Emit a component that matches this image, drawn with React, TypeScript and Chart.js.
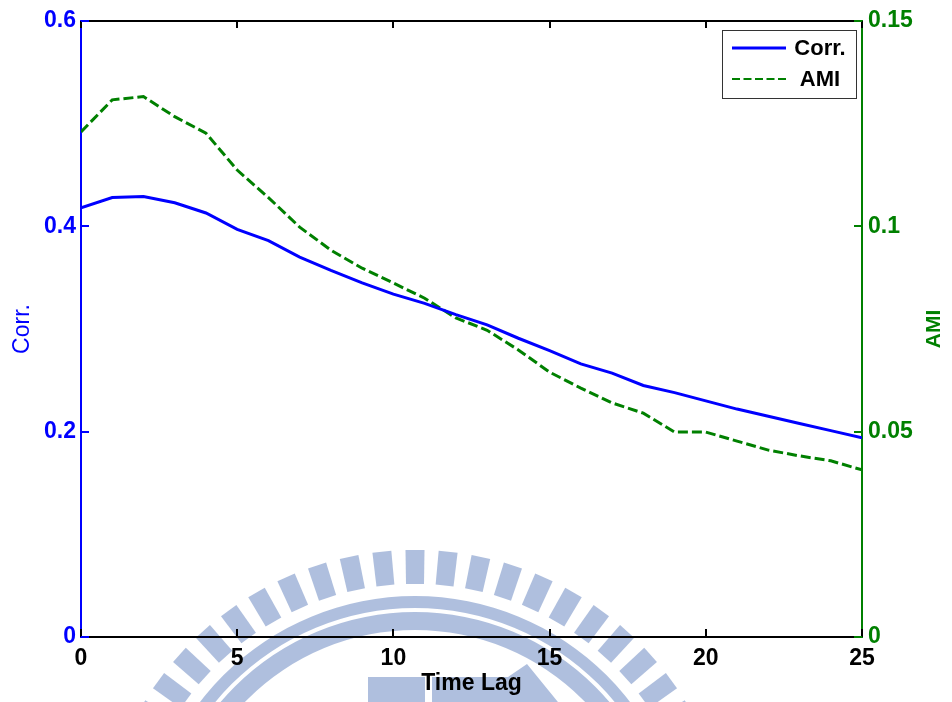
import { useEffect, useRef } from "react";
import { Chart, registerables } from "chart.js";

Chart.register(...registerables);

// Time lag (samples)
const lags = [0, 1, 2, 3, 4, 5, 6, 7, 8, 9, 10, 11, 12, 13, 14, 15, 16, 17, 18, 19, 20, 21, 22, 23, 24, 25];

// Correlation coefficient per lag (left axis)
const corrValues = [
  0.418, 0.428, 0.429, 0.423, 0.413, 0.397, 0.386, 0.37, 0.357, 0.345, 0.334, 0.325, 0.314,
  0.304, 0.291, 0.279, 0.266, 0.257, 0.245, 0.238, 0.23, 0.222, 0.215, 0.208, 0.201, 0.194,
];

// Average mutual information per lag (right axis)
const amiValues = [
  0.123, 0.1308, 0.1316, 0.1267, 0.1227, 0.1137, 0.107, 0.0998, 0.0942, 0.0898, 0.0862, 0.0825,
  0.0777, 0.0747, 0.0699, 0.0645, 0.0606, 0.057, 0.0545, 0.0499, 0.0499, 0.0477, 0.0455, 0.0441,
  0.0429, 0.0407,
];

const xTicks = [0, 5, 10, 15, 20, 25];
const xTickLabels = ["0", "5", "10", "15", "20", "25"];
const corrTicks = [0, 0.2, 0.4, 0.6];
const corrTickLabels = ["0", "0.2", "0.4", "0.6"];
const amiTicks = [0, 0.05, 0.1, 0.15];
const amiTickLabels = ["0", "0.05", "0.1", "0.15"];

const FONT = "'Liberation Sans', Arial, Helvetica, sans-serif";
const BLUE = "#0000ff";
const GREEN = "#008000";

// Inward tick marks, top frame edge, the boxed legend, the right-hand title
const framePlugin = {
  id: "frame",
  beforeDraw(chart: any) {
    const { ctx } = chart;
    ctx.save();
    ctx.fillStyle = "#ffffff";
    ctx.fillRect(0, 0, chart.width, chart.height);
    ctx.restore();
  },
  afterDatasetsDraw(chart: any) {
    const { ctx, chartArea } = chart;
    const { left, right, top, bottom } = chartArea;
    const x = chart.scales.x;
    const yL = chart.scales.yCorr;
    const yR = chart.scales.yAmi;
    ctx.save();
    ctx.lineWidth = 2;
    ctx.lineCap = "butt";

    // top edge of the box
    ctx.strokeStyle = "#000000";
    ctx.beginPath();
    ctx.moveTo(left, Math.round(top));
    ctx.lineTo(right, Math.round(top));
    ctx.stroke();

    xTicks.forEach((v) => {
      const px = Math.round(x.getPixelForValue(v));
      ctx.beginPath();
      ctx.moveTo(px, bottom);
      ctx.lineTo(px, bottom - 8);
      ctx.moveTo(px, top);
      ctx.lineTo(px, top + 7);
      ctx.stroke();
    });

    ctx.strokeStyle = BLUE;
    corrTicks.forEach((v) => {
      const py = Math.round(yL.getPixelForValue(v));
      ctx.beginPath();
      ctx.moveTo(left, py);
      ctx.lineTo(left + 8, py);
      ctx.stroke();
    });

    ctx.strokeStyle = GREEN;
    amiTicks.forEach((v) => {
      const py = Math.round(yR.getPixelForValue(v));
      ctx.beginPath();
      ctx.moveTo(right, py);
      ctx.lineTo(right - 8, py);
      ctx.stroke();
    });

    // legend box
    const bx = 722.5, by = 30.5, bw = 134, bh = 68;
    ctx.fillStyle = "#ffffff";
    ctx.fillRect(bx, by, bw, bh);
    ctx.strokeStyle = "#333333";
    ctx.lineWidth = 1;
    ctx.strokeRect(bx, by, bw, bh);

    const items = chart.data.datasets;
    const rows = [48, 79];
    items.forEach((ds: any, i: number) => {
      const ry = rows[i];
      ctx.strokeStyle = ds.borderColor;
      ctx.lineWidth = i === 0 ? 3 : 2;
      ctx.setLineDash(ds.borderDash && ds.borderDash.length ? [8, 3.5] : []);
      ctx.beginPath();
      ctx.moveTo(732, ry);
      ctx.lineTo(786, ry);
      ctx.stroke();
      ctx.setLineDash([]);
      ctx.fillStyle = "#000000";
      ctx.font = `bold 22px ${FONT}`;
      ctx.textAlign = "center";
      ctx.textBaseline = "middle";
      ctx.fillText(ds.label, 820, ry + 1);
    });

    // right axis title, reading upward
    ctx.save();
    ctx.translate(934, (top + bottom) / 2);
    ctx.rotate(-Math.PI / 2);
    ctx.fillStyle = GREEN;
    ctx.font = `bold 21px ${FONT}`;
    ctx.textAlign = "center";
    ctx.textBaseline = "middle";
    ctx.fillText("AMI", 0, 0);
    ctx.restore();

    ctx.restore();
  },
  afterDraw(chart: any) {
    // pale emblem watermark laid over the figure
    const { ctx } = chart;
    const cx = 415, cy = 867;
    ctx.save();
    ctx.globalCompositeOperation = "multiply";
    ctx.fillStyle = "rgb(175,191,222)";

    // ring of rays
    const rIn = 283, rOut = 317, half = 9;
    for (let a = -90; a <= 90; a += 6) {
      const t = (a * Math.PI) / 180;
      const ux = Math.sin(t), uy = -Math.cos(t);
      const vx = Math.cos(t), vy = Math.sin(t);
      ctx.beginPath();
      ctx.moveTo(cx + ux * rIn - vx * half, cy + uy * rIn - vy * half);
      ctx.lineTo(cx + ux * rOut - vx * (half + 0.5), cy + uy * rOut - vy * (half + 0.5));
      ctx.lineTo(cx + ux * rOut + vx * (half + 0.5), cy + uy * rOut + vy * (half + 0.5));
      ctx.lineTo(cx + ux * rIn + vx * half, cy + uy * rIn + vy * half);
      ctx.closePath();
      ctx.fill();
    }

    // two concentric bands
    const band = (r1: number, r2: number) => {
      ctx.beginPath();
      ctx.arc(cx, cy, r2, 0, Math.PI * 2);
      ctx.arc(cx, cy, r1, 0, Math.PI * 2, true);
      ctx.closePath();
      ctx.fill("evenodd");
    };
    band(259, 271);
    band(237, 255);

    // inner blocks
    ctx.fillRect(368, 677, 57, 30);
    ctx.beginPath();
    ctx.moveTo(432, 677);
    ctx.lineTo(508, 677);
    ctx.lineTo(527, 664);
    ctx.lineTo(562, 707);
    ctx.lineTo(432, 707);
    ctx.closePath();
    ctx.fill();
    ctx.restore();
  },
};

export default function App() {
  const canvasRef = useRef<HTMLCanvasElement | null>(null);

  useEffect(() => {
    const canvas = canvasRef.current;
    if (!canvas) return;
    const chart = new Chart(canvas, {
      type: "line",
      data: {
        datasets: [
          {
            label: "Corr.",
            data: lags.map((l, i) => ({ x: l, y: corrValues[i] })),
            borderColor: BLUE,
            borderWidth: 3,
            pointRadius: 0,
            tension: 0,
            yAxisID: "yCorr",
          },
          {
            label: "AMI",
            data: lags.map((l, i) => ({ x: l, y: amiValues[i] })),
            borderColor: GREEN,
            borderWidth: 3,
            borderDash: [10, 4],
            pointRadius: 0,
            tension: 0,
            yAxisID: "yAmi",
          },
        ],
      },
      options: {
        animation: false,
        responsive: false,
        devicePixelRatio: 1,
        layout: { padding: { top: 21, left: 0, right: 0, bottom: 0 } },
        plugins: {
          legend: { display: false },
          tooltip: { enabled: false },
        },
        scales: {
          x: {
            type: "linear",
            position: "bottom",
            min: 0,
            max: 25,
            afterBuildTicks: (s: any) => {
              s.ticks = xTicks.map((v) => ({ value: v }));
            },
            afterFit: (s: any) => {
              s.height = 65;
            },
            grid: { display: false, drawTicks: false },
            border: { display: true, color: "#000000", width: 2 },
            ticks: {
              padding: 8,
              color: "#000000",
              maxRotation: 0,
              font: { family: FONT, size: 23, weight: "bold" },
              callback: (_v: any, i: number) => xTickLabels[i],
            },
            title: {
              display: true,
              text: "Time Lag",
              color: "#000000",
              font: { family: FONT, size: 23, weight: "bold", lineHeight: 1.2 },
              padding: { top: 0, bottom: 5 },
            },
          },
          yCorr: {
            type: "linear",
            position: "left",
            min: 0,
            max: 0.6,
            afterBuildTicks: (s: any) => {
              s.ticks = corrTicks.map((v) => ({ value: v }));
            },
            afterFit: (s: any) => {
              s.width = 81;
            },
            grid: { display: false, drawTicks: false },
            border: { display: true, color: BLUE, width: 2 },
            ticks: {
              padding: 5,
              color: BLUE,
              font: { family: FONT, size: 23, weight: "bold" },
              callback: (_v: any, i: number) => corrTickLabels[i],
            },
            title: {
              display: true,
              text: "Corr.",
              color: BLUE,
              font: { family: FONT, size: 23, lineHeight: 1.2 },
              padding: { top: 9, bottom: 0 },
            },
          },
          yAmi: {
            type: "linear",
            position: "right",
            min: 0,
            max: 0.15,
            afterBuildTicks: (s: any) => {
              s.ticks = amiTicks.map((v) => ({ value: v }));
            },
            afterFit: (s: any) => {
              s.width = 90;
            },
            grid: { display: false, drawTicks: false },
            border: { display: true, color: GREEN, width: 2 },
            ticks: {
              padding: 6,
              color: GREEN,
              font: { family: FONT, size: 23, weight: "bold" },
              callback: (_v: any, i: number) => amiTickLabels[i],
            },
          },
        },
      },
      plugins: [framePlugin],
    } as any);
    return () => chart.destroy();
  }, []);

  return (
    <div style={{ position: "fixed", left: 0, top: 0, width: 952, height: 702, background: "#ffffff" }}>
      <canvas ref={canvasRef} width={952} height={702} style={{ display: "block" }} />
    </div>
  );
}
